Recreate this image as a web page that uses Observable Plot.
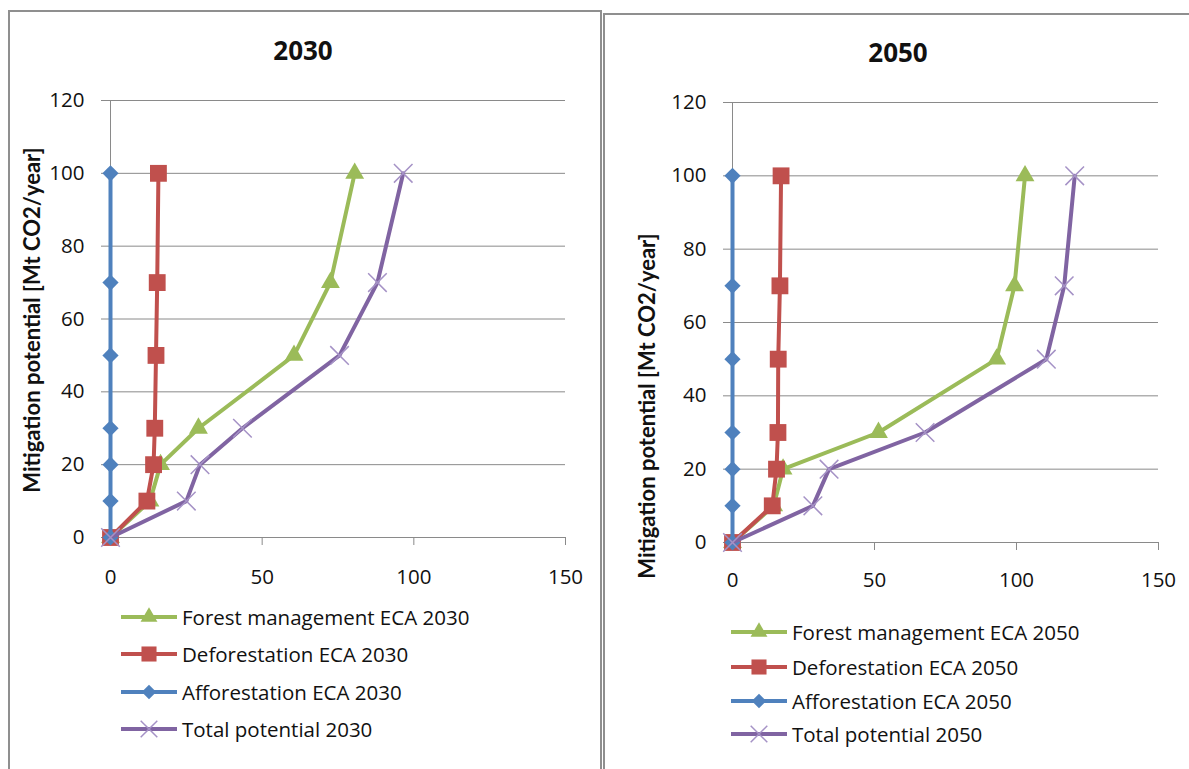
<!DOCTYPE html>
<html><head><meta charset="utf-8">
<script src="https://cdn.jsdelivr.net/npm/d3@7"></script>
<script src="https://cdn.jsdelivr.net/npm/@observablehq/plot@0.6"></script>
<style>
body{margin:0;background:#fff;overflow:hidden}
#root{position:relative;width:1189px;height:769px;overflow:hidden;background:#fff;font-family:"Open Sans",sans-serif;color:#111}
.panel{position:absolute;border:2px solid #8f8f8f;box-sizing:border-box;background:#fff}
.title{position:absolute;font-weight:bold;font-size:26px;transform:translate(-50%,-50%);white-space:nowrap}
.ylab{position:absolute;font-family:Lato,sans-serif;font-weight:bold;font-size:22px;transform:translate(-50%,-50%) rotate(-90deg);white-space:nowrap}
.leg{position:absolute;display:flex;align-items:center;font-size:20.5px;white-space:nowrap;transform:translateY(-50%)}
.leg svg{display:block;margin-right:4px}
.plotwrap{position:absolute;top:0}
.plotwrap svg text{font-family:"Open Sans",sans-serif !important;font-size:20.5px !important;fill:#111}
</style></head><body><div id="root"></div>
<script>
// y levels (vertical axis values) shared by all series
const priceLevels = [0, 10, 20, 30, 50, 70, 100];

// 2030 panel (horizontal values)
const forest2030 = [0, 13, 16.5, 29, 60.5, 72.5, 80.5];
const defor2030  = [0, 12, 14.2, 14.6, 15, 15.4, 15.8];
const affor2030  = [0, 0, 0, 0, 0, 0, 0];
const total2030  = [0, 25, 29.5, 43.5, 75.5, 88, 96.5];

// 2050 panel
const forest2050 = [0, 14.5, 17.8, 51.4, 93, 99.3, 103];
const defor2050  = [0, 14, 15.5, 16, 16.1, 16.7, 17.1];
const affor2050  = [0, 0, 0, 0, 0, 0, 0];
const total2050  = [0, 28.3, 34, 67.8, 110.5, 116.8, 120.5];

const names2030 = ["Forest management ECA 2030", "Deforestation ECA 2030", "Afforestation ECA 2030", "Total potential 2030"];
const names2050 = ["Forest management ECA 2050", "Deforestation ECA 2050", "Afforestation ECA 2050", "Total potential 2050"];
const panelTitles = ["2030", "2050"];
const yAxisTitles = ["Mitigation potential [Mt CO2/year]", "Mitigation potential  [Mt CO2/year]"];
const xTicks = [0, 50, 100, 150];
const yTicks = [0, 20, 40, 60, 80, 100, 120];

const styles = [
  {color: "#9BBB59", symbol: "triangle", r: 7},
  {color: "#C0504D", symbol: "square", r: 9.5},
  {color: "#4F81BD", symbol: "diamond2", r: 7.3},
  {color: "#8064A2", symbol: "times", r: 8.5, markStroke: "#a592c6"}
];

const root = document.getElementById("root");
const gray = "#8a8a8a";

function el(cls, css, text) {
  const d = document.createElement("div");
  d.className = cls;
  Object.assign(d.style, css);
  if (text != null) d.textContent = text;
  root.appendChild(d);
  return d;
}

function makePlot(seriesValues, L) {
  const marks = [
    Plot.gridY(yTicks, {stroke: gray, strokeOpacity: 1, strokeWidth: 1}),
    Plot.ruleX([0], {y1: 0, y2: 120, stroke: gray}),
    Plot.ruleY([0], {stroke: gray}),
    Plot.axisX({ticks: xTicks, tickSize: 8, tickPadding: L.xPad, stroke: gray, fill: "#111", label: null, fontSize: 20.5}),
    Plot.axisY({ticks: yTicks, tickSize: 9, tickPadding: 17, stroke: gray, fill: "#111", label: null, fontSize: 20.5})
  ];
  seriesValues.forEach((vals, i) => {
    const data = priceLevels.map((p, j) => ({y: p, x: vals[j]}));
    const s = styles[i];
    marks.push(Plot.line(data, {x: "x", y: "y", stroke: s.color, strokeWidth: 4}));
    if (s.symbol === "times") {
      marks.push(Plot.dot(data, {x: "x", y: "y", symbol: "times", r: s.r, stroke: s.markStroke, strokeWidth: 1.5}));
    } else {
      marks.push(Plot.dot(data, {x: "x", y: "y", symbol: s.symbol, r: s.r, fill: s.color, stroke: "none"}));
    }
  });
  return Plot.plot({
    width: L.w, height: L.h,
    marginLeft: L.ml, marginRight: L.mr, marginTop: L.mt, marginBottom: L.mb,
    x: {domain: [0, 150]},
    y: {domain: [0, 120]},
    style: {fontFamily: "'Open Sans', sans-serif", fontSize: "20.5px", background: "transparent", color: "#111", overflow: "visible"},
    marks
  });
}

function legendSwatch(s) {
  const svg = d3.create("svg").attr("width", 58).attr("height", 24);
  svg.append("line").attr("x1", 1).attr("x2", 57).attr("y1", 12).attr("y2", 12)
    .attr("stroke", s.color).attr("stroke-width", 4);
  const symMap = {triangle: d3.symbolTriangle, square: d3.symbolSquare, diamond2: d3.symbolDiamond2, times: d3.symbolTimes};
  const size = s.r * s.r * Math.PI * 0.8;
  const p = svg.append("path").attr("transform", "translate(29,12)")
    .attr("d", d3.symbol(symMap[s.symbol], size)());
  if (s.symbol === "times") p.attr("fill", "none").attr("stroke", s.markStroke).attr("stroke-width", 1.5);
  else p.attr("fill", s.color);
  return svg.node();
}

// panels
el("panel", {left: "8px", top: "10px", width: "594px", height: "800px"});
el("panel", {left: "603px", top: "13px", width: "620px", height: "800px"});

const panels = [
  {series: [forest2030, defor2030, affor2030, total2030], names: names2030,
   L: {left: 0, w: 600, h: 600, ml: 110, mr: 35, mt: 100, mb: 63, xPad: 24},
   title: [303, 50], ylab: [31, 320], legX: 120, legY: [617, 654, 692, 729]},
  {series: [forest2050, defor2050, affor2050, total2050], names: names2050,
   L: {left: 600, w: 589, h: 600, ml: 132, mr: 31, mt: 102, mb: 58, xPad: 22},
   title: [898, 52], ylab: [646, 406], legX: 730, legY: [632, 667, 701, 734]}
];

panels.forEach((P, k) => {
  el("title", {left: P.title[0] + "px", top: P.title[1] + "px"}, panelTitles[k]);
  el("ylab", {left: P.ylab[0] + "px", top: P.ylab[1] + "px"}, yAxisTitles[k]);
  const wrap = el("plotwrap", {left: P.L.left + "px"});
  wrap.appendChild(makePlot(P.series, P.L));
  P.names.forEach((n, i) => {
    const row = el("leg", {left: P.legX + "px", top: P.legY[i] + "px"});
    row.appendChild(legendSwatch(styles[i]));
    const t = document.createElement("span");
    t.textContent = n;
    row.appendChild(t);
  });
});
</script>
</body></html>
